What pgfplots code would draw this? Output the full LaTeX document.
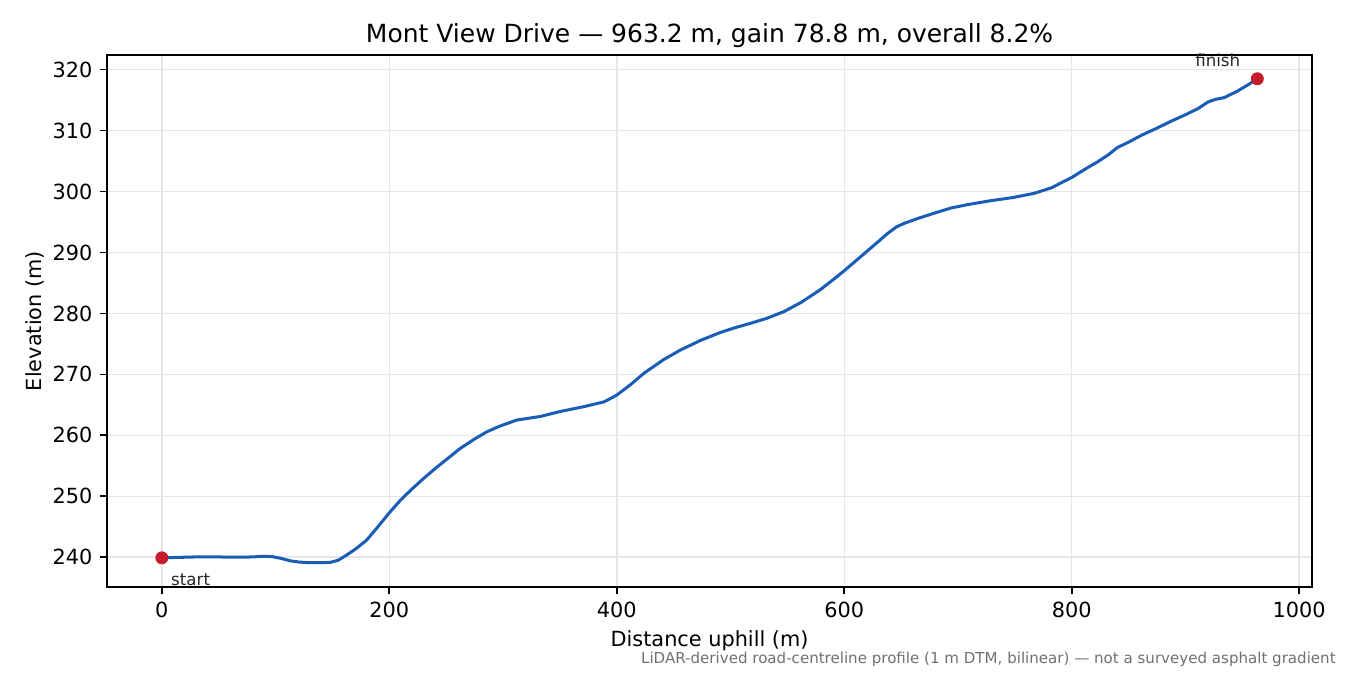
\documentclass[border=0pt]{standalone}
\usepackage{fontspec}
\setmainfont{DejaVu Sans}
\usepackage{pgfplots}
\pgfplotsset{compat=1.18}
\definecolor{lineblue}{HTML}{1A5DB5}
\definecolor{dotred}{HTML}{C41E2A}
\definecolor{gridgray}{HTML}{E6E6E6}
\definecolor{notegray}{HTML}{707070}

\pgfplotstableread{
d e
0 239.9
10 239.95
20 240.0
30 240.05
40 240.05
50 240.05
60 240.0
70 240.0
80 240.05
90 240.15
97 240.1
105 239.8
113 239.4
121 239.2
130 239.1
140 239.1
148 239.15
155 239.5
162 240.3
170 241.3
180 242.8
190 245.0
200 247.3
210 249.4
220 251.2
230 252.9
240 254.5
250 256.0
262 257.8
275 259.4
286 260.6
297 261.5
312 262.5
333 263.1
350 263.9
371 264.7
389 265.5
400 266.6
412 268.3
424 270.2
441 272.4
456 274.0
474 275.6
490 276.8
503 277.6
518 278.4
532 279.2
547 280.3
562 281.8
579 283.9
590 285.5
600 287.0
610 288.6
620 290.2
630 291.8
638 293.1
646 294.2
653 294.8
665 295.6
680 296.5
694 297.3
710 297.9
729 298.5
748 299.0
767 299.7
782 300.6
800 302.3
812 303.7
823 304.9
832 306.0
840 307.2
850 308.1
861 309.2
875 310.4
887 311.5
900 312.6
911 313.6
920 314.7
926 315.1
934 315.4
945 316.4
955 317.5
963.2 318.5
}\profile

\begin{document}
\begin{tikzpicture}
\useasboundingbox (-51.4pt,-42.2pt) rectangle (596.6pt,281.8pt);
\begin{axis}[
    scale only axis,
    width=578.4pt, height=255.4pt,
    xmin=-48.16, xmax=1011.36,
    ymin=235.1, ymax=322.4,
    xtick={0,200,...,1000},
    ytick={240,250,...,320},
    grid=major,
    major grid style={gridgray, line width=0.7pt},
    axis line style={line width=0.8pt},
    tick style={black, line width=0.8pt},
    major tick length=3.5pt,
    tick align=outside,
    xtick pos=bottom, ytick pos=left,
    ticklabel style={font=\fontsize{10}{12}\selectfont},
    /pgf/number format/assume math mode=true,
    /pgf/number format/1000 sep={},
    clip=false,
]
    \addplot[lineblue, line width=1.45pt, line join=round] table[x=d, y=e] {\profile};
    \addplot[only marks, mark=*, mark size=2.9pt, dotred, mark options={draw=dotred, fill=dotred}]
        coordinates {(0,239.9) (963.2,318.5)};
    \node[anchor=base west, font=\fontsize{8}{10}\selectfont, text=black!85, inner sep=0pt]
        at ([xshift=4.3pt, yshift=-13.5pt]axis cs:0,239.9) {start};
    \node[anchor=base, font=\fontsize{8}{10}\selectfont, text=black!85, inner sep=0pt]
        at ([xshift=-19pt, yshift=6pt]axis cs:963.2,318.5) {finish};
    \node[anchor=base, font=\fontsize{12}{14}\selectfont, inner sep=0pt]
        at ([yshift=5.8pt]rel axis cs:0.5,1) {Mont View Drive — 963.2 m, gain 78.8 m, overall 8.2\%};
    \node[anchor=base, font=\fontsize{10}{12}\selectfont, inner sep=0pt]
        at ([yshift=-28.7pt]rel axis cs:0.5,0) {Distance uphill (m)};
    \node[anchor=base, rotate=90, font=\fontsize{10}{12}\selectfont, inner sep=0pt]
        at ([xshift=-31.7pt]rel axis cs:0,0.5) {Elevation (m)};
    \node[anchor=base east, font=\fontsize{7.23}{9}\selectfont, text=notegray, inner sep=0pt]
        at ([xshift=11.5pt, yshift=-36.5pt]rel axis cs:1,0) {LiDAR-derived road-centreline profile (1 m DTM, bilinear) — not a surveyed asphalt gradient};
\end{axis}
\end{tikzpicture}
\end{document}
